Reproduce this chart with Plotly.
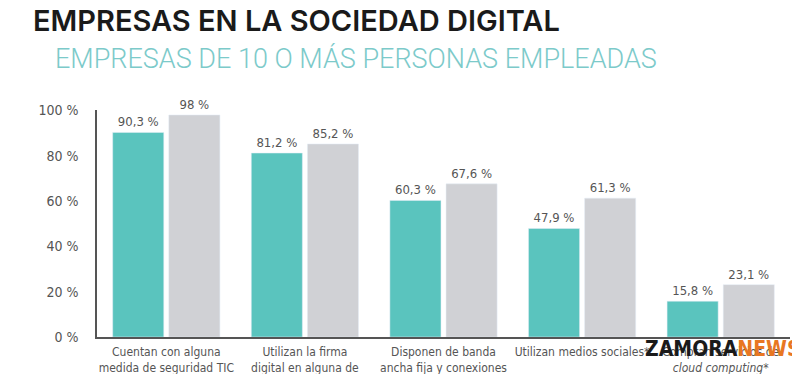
import plotly.graph_objects as go

categories = [
    "Cuentan con alguna<br>medida de seguridad TIC",
    "Utilizan la firma<br>digital en alguna de",
    "Disponen de banda<br>ancha fija y conexiones",
    "Utilizan medios sociales*",
    "Compran servicios de<br><i>cloud computing</i>*",
]
serie_a = [90.3, 81.2, 60.3, 47.9, 15.8]
serie_b = [98.0, 85.2, 67.6, 61.3, 23.1]
y_ticks = [0, 20, 40, 60, 80, 100]
y_tick_labels = ["0 %", "20 %", "40 %", "60 %", "80 %", "100 %"]

TEAL = "#5ac4be"
GREY = "#d0d1d5"
TXT = "#555555"
FONT = "DejaVu Sans Condensed, Liberation Sans Narrow, sans-serif"


def fmt(v):
    if float(v).is_integer():
        return f"{int(v)} %"
    return f"{v:.1f}".replace(".", ",") + " %"


x = list(range(len(categories)))
fig = go.Figure()
fig.add_trace(go.Bar(x=x, y=serie_a, name="Serie 1", marker_color=TEAL,
                     text=[fmt(v) for v in serie_a], textposition="outside",
                     textfont=dict(family=FONT, size=13, color=TXT), cliponaxis=False))
fig.add_trace(go.Bar(x=x, y=serie_b, name="Serie 2", marker_color=GREY,
                     text=[fmt(v) for v in serie_b], textposition="outside",
                     textfont=dict(family=FONT, size=13, color=TXT), cliponaxis=False))

# page body has an 8px default margin: figure is sized/offset to compensate
fig.update_layout(
    width=792, height=366,
    margin=dict(l=89, r=10, t=102, b=37),
    paper_bgcolor="white", plot_bgcolor="white",
    barmode="group", bargap=0.19, bargroupgap=0.09,
    showlegend=False,
    title=dict(text="EMPRESAS EN LA SOCIEDAD DIGITAL", x=0.0316, xanchor="left",
               y=0.966, yanchor="middle", xref="container", yref="container",
               font=dict(family="Inter, sans-serif", size=29, color="#1a1a1a", weight=600)),
    font=dict(family=FONT, color=TXT),
)
fig.add_annotation(text="EMPRESAS DE 10 O MÁS PERSONAS EMPLEADAS", xref="paper", yref="paper",
                   x=-0.0635, y=1.224, xanchor="left", yanchor="middle", showarrow=False,
                   font=dict(family="Roboto, sans-serif", size=27, color="#7ccaca", weight=300))
fig.add_annotation(text="<b>ZAMORA</b><span style='color:#e87722'><b>NEWS</b></span>",
                   xref="paper", yref="paper", x=0.788, y=-0.053, xanchor="left", yanchor="middle",
                   showarrow=False, font=dict(family=FONT, size=21, color="#1a1a1a"))

fig.update_xaxes(tickvals=x, ticktext=categories, range=[-0.5, 4.5], automargin=False,
                 tickangle=0, showline=True, linecolor="#555555", linewidth=1.5,
                 ticks="", ticklabelstandoff=3,
                 tickfont=dict(family=FONT, size=12, color=TXT), showgrid=False)
fig.update_yaxes(range=[0, 100.2], tickvals=y_ticks, ticktext=y_tick_labels, automargin=False,
                 showline=True, linecolor="#555555", linewidth=1.5, showgrid=False,
                 zeroline=False, ticks="", ticklabelstandoff=14,
                 tickfont=dict(family=FONT, size=14, color=TXT))

fig.write_html("out.html")
